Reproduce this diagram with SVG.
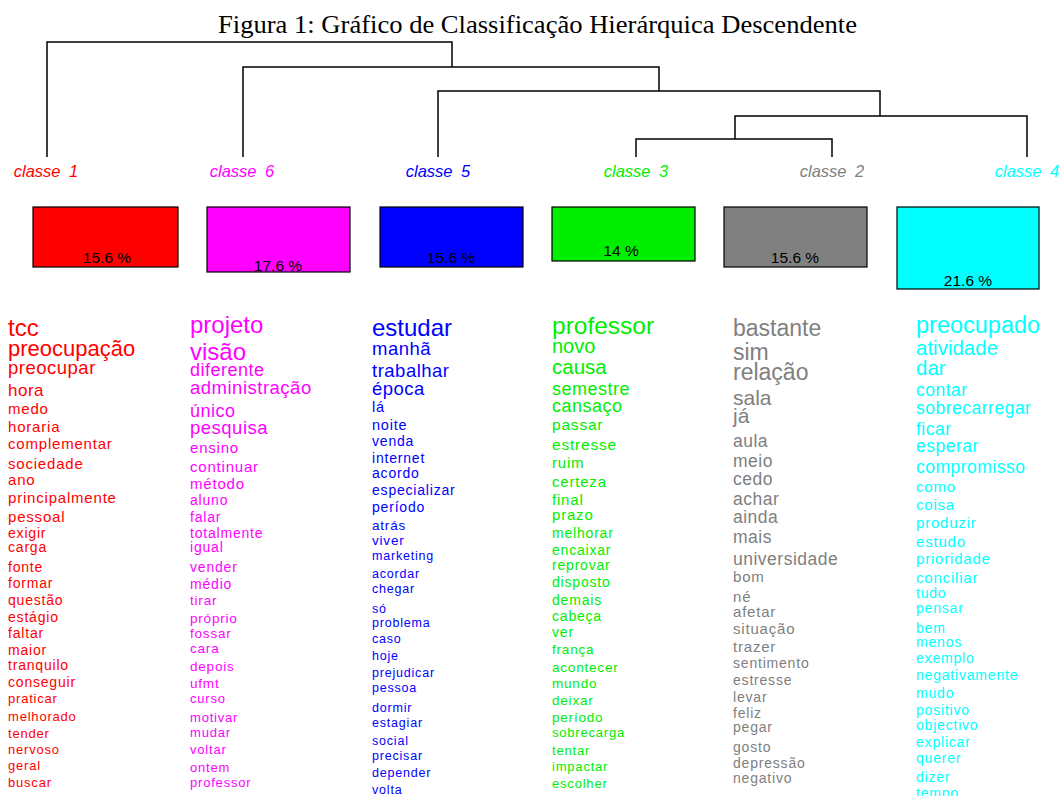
<svg xmlns="http://www.w3.org/2000/svg" width="1062" height="796" viewBox="0 0 1062 796">
<style>
.title{font-family:"Liberation Serif","Times New Roman",serif;font-size:25px;fill:#000}
.lbl{font-family:"Liberation Sans",Arial,sans-serif;font-size:16.5px;font-style:italic;text-anchor:middle;word-spacing:4px}
.box{stroke:#000;stroke-width:1.2}
.pct{font-family:"Liberation Sans",Arial,sans-serif;font-size:15.5px;fill:#000;text-anchor:middle}
.den{fill:none;stroke:#000;stroke-width:1.5}
.words text{font-family:"Liberation Sans",Arial,sans-serif}
.a{letter-spacing:0}
.b{letter-spacing:0.5px}
.c{letter-spacing:0.8px}
.red{fill:#ff0000}.mag{fill:#ff00ff}.blu{fill:#0000ff}.grn{fill:#00ee00}.gry{fill:#808080}.cyn{fill:#00ffff}
</style>
<text class="title" x="218" y="33" textLength="639" lengthAdjust="spacingAndGlyphs">Figura 1: Gráfico de Classificação Hierárquica Descendente</text>
<g id="connectors" class="den">
<path d="M47,157 V42 H452 V67"/>
<path d="M243,157 V67 H659 V91"/>
<path d="M438,157 V91 H880 V116"/>
<path d="M1027,157 V116 H735 V139"/>
<path d="M636,157 V139 H832 V157"/>
</g>
<g id="classe1">
<text class="lbl red" x="46" y="177">classe 1</text>
<rect class="box red" x="33" y="207" width="145" height="60"/>
<text class="pct" x="107" y="263">15.6 %</text>
<g class="words red" transform="translate(8,0)">
<text class="a" y="336" font-size="24">tcc</text>
<text class="a" y="356" font-size="22">preocupação</text>
<text class="b" y="374" font-size="18.5">preocupar</text>
<text class="b" y="396" font-size="17">hora</text>
<text class="c" y="414" font-size="15">medo</text>
<text class="c" y="432" font-size="15">horaria</text>
<text class="c" y="449" font-size="15">complementar</text>
<text class="c" y="469" font-size="15">sociedade</text>
<text class="c" y="485" font-size="15">ano</text>
<text class="c" y="503" font-size="15">principalmente</text>
<text class="c" y="522" font-size="15">pessoal</text>
<text class="c" y="538" font-size="14">exigir</text>
<text class="c" y="552" font-size="14">carga</text>
<text class="c" y="572" font-size="14">fonte</text>
<text class="c" y="588" font-size="14">formar</text>
<text class="c" y="605" font-size="14">questão</text>
<text class="c" y="622" font-size="14">estágio</text>
<text class="c" y="638" font-size="14">faltar</text>
<text class="c" y="655" font-size="14">maior</text>
<text class="c" y="670" font-size="14">tranquilo</text>
<text class="c" y="687" font-size="14">conseguir</text>
<text class="c" y="703" font-size="13">praticar</text>
<text class="c" y="721" font-size="13">melhorado</text>
<text class="c" y="738" font-size="13">tender</text>
<text class="c" y="754" font-size="13">nervoso</text>
<text class="c" y="770" font-size="13">geral</text>
<text class="c" y="787" font-size="13">buscar</text>
</g>
</g>
<g id="classe6">
<text class="lbl mag" x="242" y="177">classe 6</text>
<rect class="box mag" x="207" y="207" width="143" height="65"/>
<text class="pct" x="278" y="271">17.6 %</text>
<g class="words mag" transform="translate(190,0)">
<text class="a" y="333" font-size="24">projeto</text>
<text class="a" y="360" font-size="24">visão</text>
<text class="b" y="376" font-size="18">diferente</text>
<text class="b" y="394" font-size="18.5">administração</text>
<text class="b" y="417" font-size="18">único</text>
<text class="b" y="434" font-size="18.5">pesquisa</text>
<text class="c" y="453" font-size="15">ensino</text>
<text class="c" y="472" font-size="15">continuar</text>
<text class="c" y="489" font-size="15">método</text>
<text class="c" y="505" font-size="14">aluno</text>
<text class="c" y="522" font-size="14">falar</text>
<text class="c" y="538" font-size="14">totalmente</text>
<text class="c" y="552" font-size="14">igual</text>
<text class="c" y="572" font-size="14">vender</text>
<text class="c" y="589" font-size="14">médio</text>
<text class="c" y="605" font-size="13.5">tirar</text>
<text class="c" y="623" font-size="13.5">próprio</text>
<text class="c" y="638" font-size="13.5">fossar</text>
<text class="c" y="653" font-size="13.5">cara</text>
<text class="c" y="671" font-size="13.5">depois</text>
<text class="c" y="688" font-size="13.5">ufmt</text>
<text class="c" y="703" font-size="13">curso</text>
<text class="c" y="722" font-size="13">motivar</text>
<text class="c" y="737" font-size="13">mudar</text>
<text class="c" y="754" font-size="13">voltar</text>
<text class="c" y="772" font-size="13">ontem</text>
<text class="c" y="787" font-size="13">professor</text>
</g>
</g>
<g id="classe5">
<text class="lbl blu" x="438" y="177">classe 5</text>
<rect class="box blu" x="380" y="207" width="143" height="60"/>
<text class="pct" x="451" y="263">15.6 %</text>
<g class="words blu" transform="translate(372,0)">
<text class="a" y="336" font-size="24">estudar</text>
<text class="b" y="355" font-size="18.5">manhã</text>
<text class="b" y="377" font-size="18.5">trabalhar</text>
<text class="b" y="395" font-size="18.5">época</text>
<text class="c" y="412" font-size="14.5">lá</text>
<text class="c" y="430" font-size="14.5">noite</text>
<text class="c" y="446" font-size="14">venda</text>
<text class="c" y="463" font-size="14">internet</text>
<text class="c" y="478" font-size="14">acordo</text>
<text class="c" y="495" font-size="14">especializar</text>
<text class="c" y="512" font-size="14">período</text>
<text class="c" y="530" font-size="13.5">atrás</text>
<text class="c" y="545" font-size="13.5">viver</text>
<text class="c" y="560" font-size="12.5">marketing</text>
<text class="c" y="578" font-size="12.5">acordar</text>
<text class="c" y="593" font-size="12.5">chegar</text>
<text class="c" y="613" font-size="12.5">só</text>
<text class="c" y="627" font-size="12.5">problema</text>
<text class="c" y="643" font-size="12.5">caso</text>
<text class="c" y="660" font-size="12.5">hoje</text>
<text class="c" y="677" font-size="12.5">prejudicar</text>
<text class="c" y="692" font-size="12.5">pessoa</text>
<text class="c" y="712" font-size="12.5">dormir</text>
<text class="c" y="727" font-size="12.5">estagiar</text>
<text class="c" y="745" font-size="12.5">social</text>
<text class="c" y="760" font-size="12.5">precisar</text>
<text class="c" y="777" font-size="12.5">depender</text>
<text class="c" y="794" font-size="12.5">volta</text>
</g>
</g>
<g id="classe3">
<text class="lbl grn" x="636" y="177">classe 3</text>
<rect class="box grn" x="552" y="207" width="143" height="54"/>
<text class="pct" x="621" y="256">14 %</text>
<g class="words grn" transform="translate(552,0)">
<text class="a" y="334" font-size="24.5">professor</text>
<text class="a" y="353" font-size="20">novo</text>
<text class="a" y="374" font-size="20.5">causa</text>
<text class="b" y="395" font-size="18">semestre</text>
<text class="b" y="412" font-size="18">cansaço</text>
<text class="c" y="430" font-size="15.5">passar</text>
<text class="c" y="450" font-size="15.5">estresse</text>
<text class="c" y="468" font-size="15">ruim</text>
<text class="c" y="487" font-size="15">certeza</text>
<text class="c" y="505" font-size="15">final</text>
<text class="c" y="520" font-size="15">prazo</text>
<text class="c" y="538" font-size="14">melhorar</text>
<text class="c" y="555" font-size="14">encaixar</text>
<text class="c" y="570" font-size="14">reprovar</text>
<text class="c" y="587" font-size="14">disposto</text>
<text class="c" y="605" font-size="14">demais</text>
<text class="c" y="621" font-size="14">cabeça</text>
<text class="c" y="637" font-size="14">ver</text>
<text class="c" y="654" font-size="13.5">frança</text>
<text class="c" y="672" font-size="13.5">acontecer</text>
<text class="c" y="688" font-size="13.5">mundo</text>
<text class="c" y="705" font-size="13.5">deixar</text>
<text class="c" y="722" font-size="13.5">período</text>
<text class="c" y="737" font-size="13">sobrecarga</text>
<text class="c" y="755" font-size="13">tentar</text>
<text class="c" y="771" font-size="13">impactar</text>
<text class="c" y="788" font-size="13">escolher</text>
</g>
</g>
<g id="classe2">
<text class="lbl gry" x="832" y="177">classe 2</text>
<rect class="box gry" x="724" y="207" width="143" height="60"/>
<text class="pct" x="795" y="263">15.6 %</text>
<g class="words gry" transform="translate(733,0)">
<text class="a" y="336" font-size="23">bastante</text>
<text class="a" y="360" font-size="23">sim</text>
<text class="a" y="380" font-size="23">relação</text>
<text class="a" y="405" font-size="21">sala</text>
<text class="a" y="423" font-size="21">já</text>
<text class="b" y="447" font-size="17.5">aula</text>
<text class="b" y="467" font-size="17.5">meio</text>
<text class="b" y="485" font-size="17.5">cedo</text>
<text class="b" y="505" font-size="17.5">achar</text>
<text class="b" y="523" font-size="17.5">ainda</text>
<text class="b" y="543" font-size="17.5">mais</text>
<text class="b" y="565" font-size="17.5">universidade</text>
<text class="c" y="582" font-size="15">bom</text>
<text class="c" y="602" font-size="15">né</text>
<text class="c" y="617" font-size="15">afetar</text>
<text class="c" y="634" font-size="15">situação</text>
<text class="c" y="652" font-size="15">trazer</text>
<text class="c" y="668" font-size="14">sentimento</text>
<text class="c" y="685" font-size="14">estresse</text>
<text class="c" y="702" font-size="14">levar</text>
<text class="c" y="718" font-size="14">feliz</text>
<text class="c" y="732" font-size="14">pegar</text>
<text class="c" y="752" font-size="14">gosto</text>
<text class="c" y="768" font-size="14">depressão</text>
<text class="c" y="783" font-size="14">negativo</text>
</g>
</g>
<g id="classe4">
<text class="lbl cyn" x="1027" y="177">classe 4</text>
<rect class="box cyn" x="897" y="207" width="142" height="82"/>
<text class="pct" x="968" y="286">21.6 %</text>
<g class="words cyn" transform="translate(916,0)">
<text class="a" y="333" font-size="23.5">preocupado</text>
<text class="a" y="355" font-size="20.5">atividade</text>
<text class="a" y="375" font-size="20.5">dar</text>
<text class="b" y="396" font-size="17.5">contar</text>
<text class="b" y="414" font-size="17.5">sobrecarregar</text>
<text class="b" y="435" font-size="17.5">ficar</text>
<text class="b" y="452" font-size="17.5">esperar</text>
<text class="b" y="473" font-size="17.5">compromisso</text>
<text class="c" y="492" font-size="15">como</text>
<text class="c" y="510" font-size="15">coisa</text>
<text class="c" y="528" font-size="15">produzir</text>
<text class="c" y="547" font-size="15">estudo</text>
<text class="c" y="564" font-size="15">prioridade</text>
<text class="c" y="583" font-size="15">conciliar</text>
<text class="c" y="598" font-size="14">tudo</text>
<text class="c" y="613" font-size="14">pensar</text>
<text class="c" y="633" font-size="14">bem</text>
<text class="c" y="647" font-size="14">menos</text>
<text class="c" y="663" font-size="14">exemplo</text>
<text class="c" y="680" font-size="14">negativamente</text>
<text class="c" y="698" font-size="14">mudo</text>
<text class="c" y="715" font-size="14">positivo</text>
<text class="c" y="730" font-size="14">objectivo</text>
<text class="c" y="747" font-size="14">explicar</text>
<text class="c" y="763" font-size="14">querer</text>
<text class="c" y="782" font-size="14">dizer</text>
<text class="c" y="798" font-size="14">tempo</text>
</g>
</g>
</svg>
